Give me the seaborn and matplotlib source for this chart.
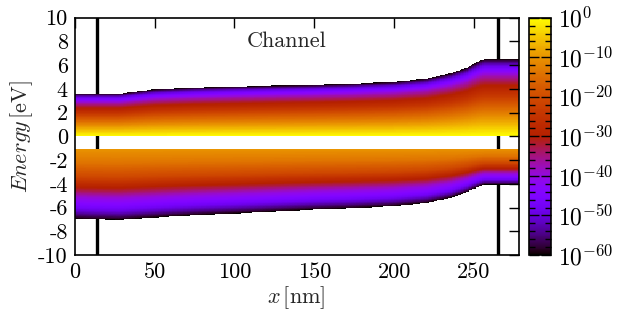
import numpy as np
import pandas as pd
import seaborn as sns
import matplotlib.pyplot as plt
from matplotlib.ticker import MultipleLocator

# band edges (x in nm, energy in eV)
x_nodes = [0, 10, 28, 50, 75, 100, 125, 150, 175, 200, 220, 235, 245, 251, 256, 278]
cb_top = [3.6, 3.6, 3.6, 3.95, 4.1, 4.2, 4.28, 4.35, 4.45, 4.6, 4.85, 5.3, 5.75, 6.2, 6.5, 6.5]
vb_bottom = [-6.95, -7.0, -7.05, -6.85, -6.65, -6.5, -6.33, -6.17, -6.05, -5.88,
             -5.62, -5.2, -4.72, -4.35, -4.08, -4.08]
cb_floor = 0.0
vb_ceiling = -1.05

# log10 of the value across each band (0 = inner edge, 1 = outer edge)
cb_prof_t = [0, 0.08, 0.22, 0.42, 0.55, 0.68, 0.78, 0.92, 1.0]
cb_prof_log = [0, -3, -9, -18, -25, -31, -37, -50, -60]
vb_prof_t = [0, 0.2, 0.4, 0.5, 0.6, 0.7, 0.85, 1.0]
vb_prof_log = [-10, -14, -21, -27, -33, -40, -48, -60]

contacts = [14, 265]
x_ticks = [0, 50, 100, 150, 200, 250]
y_ticks = list(range(-10, 11, 2))
cb_ticks = [0, -10, -20, -30, -40, -50, -60]

# grid
dx, dE = 1.0, 0.05
x_max, e_min, e_max = 278, -10.0, 10.0
xc = np.arange(0, x_max, dx) + dx / 2
ec = e_max - (np.arange(int(round((e_max - e_min) / dE))) + 0.5) * dE
top = np.interp(xc, x_nodes, cb_top)
bot = np.interp(xc, x_nodes, vb_bottom)
X, E = np.meshgrid(xc, ec)
T = np.broadcast_to(top, E.shape)
B = np.broadcast_to(bot, E.shape)

Z = np.full(E.shape, np.nan)
m = (E >= cb_floor) & (E <= T)
Z[m] = np.interp(((E - cb_floor) / (T - cb_floor))[m], cb_prof_t, cb_prof_log)
m = (E <= vb_ceiling) & (E >= B)
Z[m] = np.interp(((vb_ceiling - E) / (vb_ceiling - B))[m], vb_prof_t, vb_prof_log)

df = pd.DataFrame(Z, index=np.round(ec, 3), columns=np.round(xc, 2))

sns.set_style('white')
plt.rcParams['font.family'] = ['cmr10', 'DejaVu Serif']
plt.rcParams['mathtext.fontset'] = 'cm'
plt.rcParams['axes.unicode_minus'] = False
plt.rcParams['axes.axisbelow'] = False

fig = plt.figure(figsize=(6.2, 3.2), dpi=100)
ax = fig.add_axes([0.1205, 0.203, 0.7161, 0.7417])
cax = fig.add_axes([0.8527, 0.203, 0.0365, 0.7417])

sns.heatmap(df, ax=ax, cmap='gnuplot', vmin=-60, vmax=0, cbar_ax=cax,
            xticklabels=False, yticklabels=False, cbar_kws={'ticks': cb_ticks})

for c in contacts:
    ax.axvline(c / dx, color='black', lw=2.4, zorder=0.5)

ax.text(133 / dx, (e_max - 8) / dE, 'Channel', ha='center', va='center', fontsize=16)

ax.set_xticks([v / dx for v in x_ticks])
ax.set_xticklabels([str(v) for v in x_ticks], rotation=0, fontsize=16)
ax.set_yticks([(e_max - v) / dE for v in y_ticks])
ax.set_yticklabels([str(v) for v in y_ticks], rotation=0, fontsize=16)
ax.tick_params(direction='in', top=True, right=True, length=7, width=1, pad=5, colors='black')
ax.set_axisbelow(False)
for s in ax.spines.values():
    s.set_visible(True)
    s.set_color('black')
    s.set_linewidth(1.2)
ax.set_xlabel(r'$x\,[\mathrm{nm}]$', fontsize=16, labelpad=2)
ax.set_ylabel(r'$Energy\,[\mathrm{eV}]$', fontsize=16, labelpad=2)

cb = ax.collections[0].colorbar
cb.outline.set_linewidth(1.2)
cb.outline.set_edgecolor('black')
cax.set_axisbelow(False)
cax.yaxis.set_minor_locator(MultipleLocator(2))
cax.set_yticklabels([r'$10^{%d}$' % v for v in cb_ticks], fontsize=17)
cax.tick_params(which='major', direction='in', left=True, right=True, length=7, width=1,
                pad=5, colors='black')
cax.tick_params(which='minor', direction='in', left=True, right=True, length=4, width=1,
                colors='black')

fig.savefig('out.png', dpi=100)
